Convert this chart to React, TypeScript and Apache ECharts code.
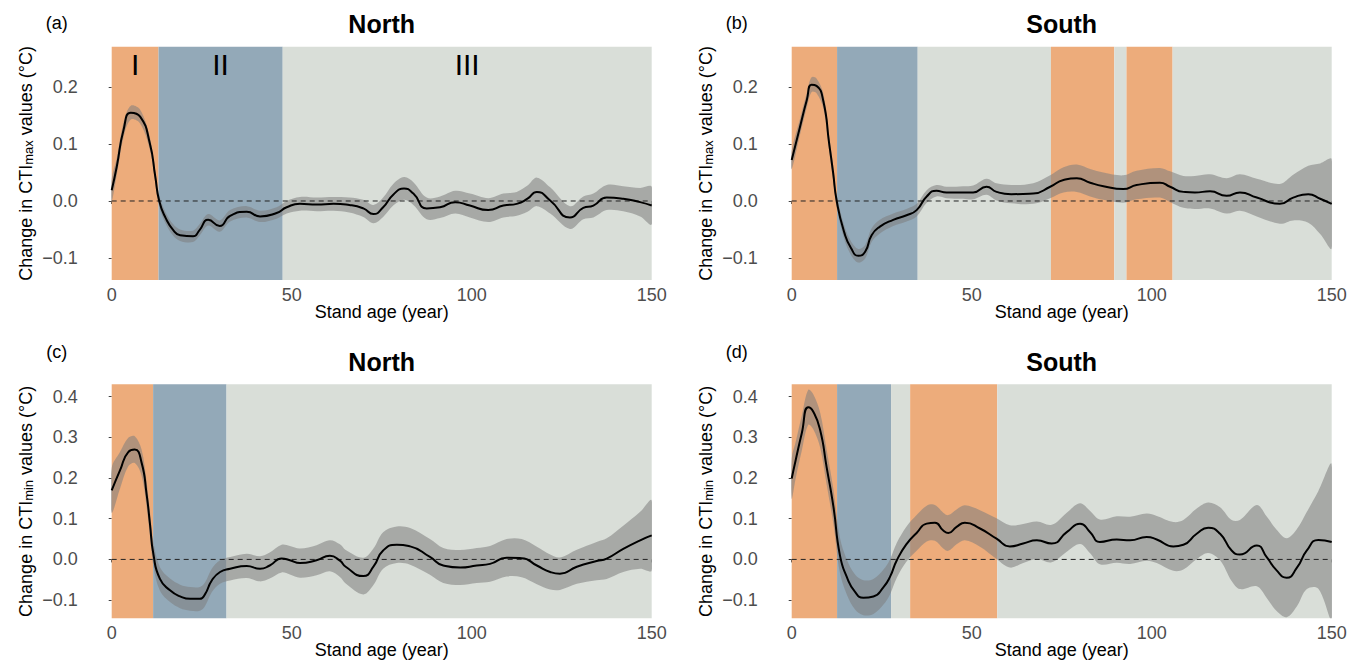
import React, { useEffect, useRef } from 'react';
import * as echarts from 'echarts';

// ---------- data ----------
const AGE_A = [0,1.4,3.3,5.3,7.9,10.6,12.1,13.2,15,17.1,19,22.6,24.4,26.8,30,32.9,37.5,41.2,45.8,48.6,52.3,57,61.6,66,69.9,72.7,75.4,78.2,81.2,83.8,87.5,91.2,95.4,99.5,104.6,108.8,112.5,115.5,118.1,121.8,127.3,131,133.8,137.5,142.1,146.8,150];
const FIT_A = [0.019,0.06,0.125,0.155,0.148,0.101,0.043,0.0,-0.03,-0.051,-0.06,-0.062,-0.051,-0.033,-0.044,-0.026,-0.019,-0.027,-0.021,-0.011,-0.005,-0.006,-0.005,-0.007,-0.013,-0.023,-0.011,0.011,0.022,0.013,-0.013,-0.011,-0.002,-0.008,-0.016,-0.008,-0.005,0.004,0.016,0.001,-0.029,-0.012,-0.008,0.006,0.004,-0.002,-0.008];
const HALF_A = [0.02,0.015,0.013,0.012,0.012,0.011,0.01,0.01,0.01,0.01,0.01,0.01,0.01,0.01,0.01,0.01,0.01,0.01,0.01,0.011,0.012,0.012,0.012,0.013,0.015,0.016,0.017,0.019,0.02,0.02,0.019,0.019,0.02,0.021,0.021,0.021,0.021,0.023,0.025,0.023,0.02,0.02,0.021,0.022,0.022,0.025,0.033];

const AGE_B = [0,2.3,4.2,5.5,6.9,8.8,10.4,11.5,12.5,14.6,16.5,18.5,20.4,22.2,24.5,28.2,31.9,34.7,37.5,40.2,43,47.6,50.4,54.1,56.9,61,67.1,71.8,75.5,79.2,82.9,86.6,92.1,95.8,102.3,105.1,108.8,112,116.2,120.8,124.5,129.2,135.6,139.3,143.5,146.8,150];
const FIT_B = [0.072,0.13,0.177,0.204,0.202,0.175,0.101,0.05,0.0,-0.055,-0.083,-0.096,-0.089,-0.06,-0.045,-0.033,-0.025,-0.016,0.008,0.018,0.015,0.015,0.015,0.025,0.016,0.012,0.013,0.025,0.037,0.04,0.032,0.026,0.021,0.028,0.032,0.025,0.016,0.015,0.017,0.009,0.015,0.006,-0.005,0.006,0.012,0.004,-0.005];
const HALF_B = [0.016,0.014,0.013,0.013,0.013,0.013,0.013,0.013,0.012,0.012,0.012,0.012,0.012,0.012,0.012,0.011,0.011,0.011,0.011,0.01,0.01,0.011,0.012,0.014,0.015,0.016,0.018,0.02,0.022,0.024,0.024,0.024,0.024,0.025,0.026,0.027,0.028,0.029,0.03,0.031,0.032,0.033,0.035,0.04,0.05,0.062,0.078];

const AGE_C = [0,2.3,4.6,6.4,8.3,9.7,10.6,11.6,13.4,16.2,19,21.8,24.5,25.9,27.8,30.1,32.9,37.5,41.2,43.9,47.2,49.5,52.3,56.9,60.6,63.4,65,69.9,72.7,75.4,79.2,82.9,88.4,92.1,96.8,101.4,105.1,109.7,113.9,118.1,121.8,124.5,129.2,134.7,137.5,142.1,146.8,150];
const FIT_C = [0.17,0.219,0.264,0.27,0.238,0.16,0.09,0.012,-0.048,-0.076,-0.091,-0.097,-0.097,-0.086,-0.052,-0.031,-0.023,-0.016,-0.023,-0.015,0.002,-0.002,-0.009,-0.002,0.009,-0.003,-0.018,-0.041,-0.018,0.022,0.036,0.032,0.006,-0.015,-0.02,-0.015,-0.011,0.004,0.003,-0.015,-0.031,-0.035,-0.018,-0.004,0.002,0.026,0.047,0.059];
const HALF_C = [0.055,0.045,0.035,0.033,0.032,0.031,0.03,0.03,0.029,0.029,0.029,0.029,0.029,0.029,0.029,0.029,0.029,0.03,0.031,0.032,0.034,0.035,0.036,0.037,0.038,0.04,0.041,0.045,0.045,0.045,0.045,0.045,0.044,0.043,0.043,0.043,0.044,0.046,0.047,0.046,0.043,0.04,0.042,0.047,0.05,0.057,0.07,0.086];

const AGE_D = [0,1.1,2.8,4.6,6.0,7.9,9.7,11.6,13.4,15.3,17.6,19.9,22.7,25.5,27.3,29.2,32,34.7,37.5,39.8,42.1,43.5,45.8,48.1,52.3,56.9,60.6,64.3,68.1,72.2,76.4,80.1,82.9,85.6,90.3,94,98.6,101.4,106,108.8,112.5,115.7,119,122.2,124.5,129.2,131.9,134.7,137.5,140.3,143.1,146.3,150];
const FIT_D = [0.199,0.244,0.31,0.374,0.363,0.318,0.227,0.129,0.01,-0.043,-0.08,-0.094,-0.091,-0.068,-0.043,-0.002,0.039,0.065,0.088,0.09,0.071,0.065,0.08,0.09,0.076,0.051,0.032,0.039,0.047,0.039,0.067,0.088,0.067,0.043,0.049,0.047,0.055,0.049,0.032,0.036,0.063,0.078,0.063,0.022,0.012,0.034,0.006,-0.027,-0.045,-0.021,0.022,0.048,0.043];
const HALF_D = [0.05,0.045,0.043,0.043,0.043,0.043,0.043,0.043,0.043,0.043,0.043,0.043,0.043,0.043,0.043,0.043,0.043,0.044,0.044,0.044,0.044,0.044,0.043,0.043,0.045,0.05,0.052,0.048,0.046,0.046,0.048,0.05,0.052,0.055,0.057,0.058,0.058,0.058,0.06,0.061,0.062,0.062,0.065,0.075,0.085,0.1,0.1,0.1,0.097,0.095,0.095,0.12,0.19];

// regions: [start age, end age, phase]
const REGIONS_A = [[0, 13, 'early'], [13, 47.5, 'mid'], [47.5, 150, 'late']];
const LABELS_A = ['I', 'II', 'III'];
const REGIONS_B = [[0, 12.6, 'early'], [12.6, 35, 'mid'], [35, 72, 'late'], [72, 89.6, 'early'], [89.6, 93, 'late'], [93, 105.8, 'early'], [105.8, 150, 'late']];
const REGIONS_C = [[0, 11.5, 'early'], [11.5, 31.9, 'mid'], [31.9, 150, 'late']];
const REGIONS_D = [[0, 12.6, 'early'], [12.6, 27.6, 'mid'], [27.6, 32.9, 'late'], [32.9, 57.1, 'early'], [57.1, 150, 'late']];

const X_TICKS = [0, 10, 20, 30, 40, 50, 60, 70, 80, 90, 100, 110, 120, 130, 140, 150];
const X_LABELS = [0, 50, 100, 150];
const Y_TICKS_TOP = [-0.1, 0, 0.1, 0.2];
const Y_TICKS_BOTTOM = [-0.1, 0, 0.1, 0.2, 0.3, 0.4];

const TITLES = ['North', 'South', 'North', 'South'];
const LETTERS = ['(a)', '(b)', '(c)', '(d)'];

// ---------- style ----------
const FONT = 'Liberation Sans, Arial, Helvetica, sans-serif';
const PHASE_COLORS: Record<string, string> = { early: '#EDAC7B', mid: '#93A9B8', late: '#D9DED8' };
const BAND_COLOR = 'rgba(125,125,125,0.55)';

const GRIDS = [
  { left: 111.7, top: 46.7, width: 540, height: 233.3 },
  { left: 791.7, top: 46.7, width: 540, height: 233.3 },
  { left: 111.7, top: 384.3, width: 540, height: 234 },
  { left: 791.7, top: 384.3, width: 540, height: 234 },
];
const Y_RANGE_TOP = [-0.1386, 0.2707];
const Y_RANGE_BOTTOM = [-0.1448, 0.4306];

function fmtY(v: number) {
  const s = Math.abs(v).toFixed(1);
  return v < -1e-9 ? '\u2212' + s : s;
}

export default function App() {
  const ref = useRef<HTMLDivElement>(null);
  useEffect(() => {
    if (!ref.current) return;
    const chart = echarts.init(ref.current, undefined, { renderer: 'svg' });
    const panels = [
      { ages: AGE_A, fit: FIT_A, half: HALF_A, regions: REGIONS_A, labels: LABELS_A, sub: 'max' },
      { ages: AGE_B, fit: FIT_B, half: HALF_B, regions: REGIONS_B, labels: null, sub: 'max' },
      { ages: AGE_C, fit: FIT_C, half: HALF_C, regions: REGIONS_C, labels: null, sub: 'min' },
      { ages: AGE_D, fit: FIT_D, half: HALF_D, regions: REGIONS_D, labels: null, sub: 'min' },
    ];
    const series: any[] = [];
    const xAxis: any[] = [];
    const yAxis: any[] = [];
    panels.forEach((p, i) => {
      const top = i < 2;
      const yr = top ? Y_RANGE_TOP : Y_RANGE_BOTTOM;
      xAxis.push({
        type: 'value', gridIndex: i, min: 0, max: 150,
        axisLine: { show: false },
        splitLine: { show: false },
        axisTick: { show: true, length: 3, lineStyle: { color: '#444', width: 1 }, customValues: X_TICKS },
        axisLabel: { customValues: X_LABELS, fontSize: 18, color: '#4D4D4D', margin: 6, fontFamily: FONT },
        name: 'Stand age (year)', nameLocation: 'middle', nameGap: 23, nameMoveOverlap: false,
        nameTextStyle: { fontSize: 18, color: '#000', fontFamily: FONT },
      });
      yAxis.push({
        type: 'value', gridIndex: i, min: yr[0], max: yr[1], offset: 27,
        axisLine: { show: false },
        splitLine: { show: false },
        axisTick: { show: true, length: 3, lineStyle: { color: '#444', width: 1 }, customValues: top ? Y_TICKS_TOP : Y_TICKS_BOTTOM },
        axisLabel: { customValues: top ? Y_TICKS_TOP : Y_TICKS_BOTTOM, fontSize: 18, color: '#4D4D4D', margin: 7, fontFamily: FONT, formatter: (v: number) => fmtY(v) },
        name: 'Change in CTI{sub|' + p.sub + '} values (\u00B0C)', nameLocation: 'middle', nameGap: 50, nameRotate: 90, nameMoveOverlap: false,
        nameTextStyle: { fontSize: 18, color: '#000', fontFamily: FONT, rich: { sub: { fontSize: 13, lineHeight: 6, verticalAlign: 'bottom', fontFamily: FONT, color: '#000' } } },
      });
      // phase backgrounds
      series.push({
        type: 'line', xAxisIndex: i, yAxisIndex: i, data: [[0, 0]], showSymbol: false, symbol: 'none',
        lineStyle: { width: 0, opacity: 0 }, z: 1, silent: true,
        markArea: {
          silent: true,
          label: { show: !!p.labels, position: 'insideTop', distance: 3, fontSize: 30, color: '#000', fontFamily: FONT },
          data: p.regions.map((r: any, k: number) => [
            { xAxis: r[0], name: p.labels ? p.labels[k] : '', itemStyle: { color: PHASE_COLORS[r[2]], opacity: 1 } },
            { xAxis: r[1] },
          ]),
        },
      });
      // confidence band
      const bandData = p.ages.map((a, k) => [a, p.fit[k] - p.half[k], p.fit[k] + p.half[k]]);
      series.push({
        type: 'custom', xAxisIndex: i, yAxisIndex: i, coordinateSystem: 'cartesian2d',
        data: bandData, encode: { x: 0, y: [1, 2] }, z: 2, silent: true, clip: true,
        renderItem: (params: any, api: any) => {
          if (params.dataIndex !== 0) return null;
          const pts: number[][] = [];
          for (let k = 0; k < bandData.length; k++) pts.push(api.coord([bandData[k][0], bandData[k][2]]));
          for (let k = bandData.length - 1; k >= 0; k--) pts.push(api.coord([bandData[k][0], bandData[k][1]]));
          return { type: 'polygon', shape: { points: pts, smooth: 0.35 }, style: { fill: BAND_COLOR, stroke: 'none' } };
        },
      });
      // zero reference
      series.push({
        type: 'line', xAxisIndex: i, yAxisIndex: i, data: [[0, 0], [150, 0]],
        symbol: 'none', showSymbol: false, lineStyle: { color: '#222', width: 1, type: [5, 4] }, z: 3, silent: true,
      });
      // fitted curve
      series.push({
        type: 'line', xAxisIndex: i, yAxisIndex: i,
        data: p.ages.map((a, k) => [a, p.fit[k]]),
        symbol: 'none', showSymbol: false, smooth: 0.55, lineStyle: { color: '#000', width: 2 }, z: 4, silent: true,
      });
    });

    const graphic: any[] = [];
    GRIDS.forEach((g, i) => {
      const titleY = i < 2 ? 24 : 362;
      graphic.push({
        type: 'text', x: g.left + g.width / 2, y: titleY,
        style: { text: TITLES[i], fontSize: 25, fontWeight: 'bold', fill: '#000', align: 'center', verticalAlign: 'middle', fontFamily: FONT },
      });
      graphic.push({
        type: 'text', x: g.left - 55, y: i < 2 ? 23 : 352,
        style: { text: LETTERS[i], fontSize: 18, fill: '#000', align: 'center', verticalAlign: 'middle', fontFamily: FONT },
      });
    });

    chart.setOption({
      animation: false,
      backgroundColor: '#fff',
      textStyle: { fontFamily: FONT },
      grid: GRIDS.map((g) => ({ ...g, containLabel: false, outerBoundsMode: 'none' })),
      xAxis, yAxis, series, graphic,
    });
    return () => chart.dispose();
  }, []);
  return <div ref={ref} style={{ position: 'fixed', left: 0, top: 0, width: 1349, height: 663, background: '#fff' }} />;
}
